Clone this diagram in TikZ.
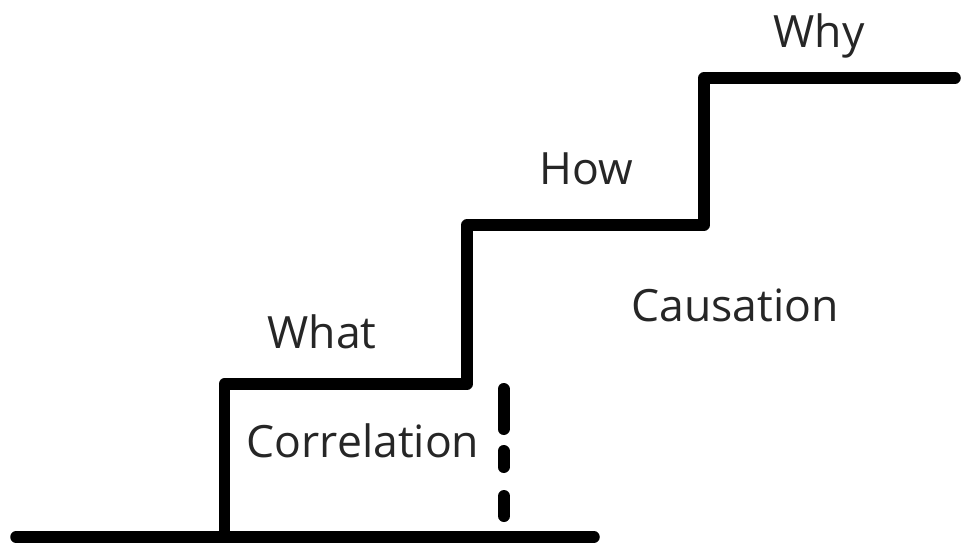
\documentclass[tikz,border=0pt]{standalone}
\usepackage{fontspec}
\setmainfont{Open Sans}
\begin{document}
\begin{tikzpicture}[x=1pt,y=-1pt,
    stairline/.style={line width=11.5pt, line cap=round, line join=round},
    dashpart/.style={line width=12pt, line cap=round},
    steplabel/.style={font=\fontsize{44.5}{44.5}\selectfont, inner sep=0pt, anchor=base, text=black!85}]
  \useasboundingbox (0,0) rectangle (961,542);

  % corners of the staircase
  \coordinate (g0) at (16,537);
  \coordinate (g1) at (594,537);
  \coordinate (r1b) at (224.5,537);
  \coordinate (r1t) at (224.5,384);
  \coordinate (r2b) at (467,384);
  \coordinate (r2t) at (467,225);
  \coordinate (r3b) at (704,225);
  \coordinate (r3t) at (704,78);
  \coordinate (topend) at (955,78);

  % ground line and steps
  \draw[stairline] (g0) -- (g1);
  \draw[stairline] (r1b) -- (r1t) -- (r2b) -- (r2t) -- (r3b) -- (r3t) -- (topend);

  % dashed divider between correlation and causation
  \coordinate (d1a) at (503.5,389); \coordinate (d1b) at (503.5,429);
  \coordinate (d2a) at (503.5,451); \coordinate (d2b) at (503.5,467);
  \coordinate (d3a) at (504,496);   \coordinate (d3b) at (504,516);
  \draw[dashpart] (d1a) -- (d1b);
  \draw[dashpart] (d2a) -- (d2b);
  \draw[dashpart] (d3a) -- (d3b);

  % labels
  \node[steplabel] (why) at (819,47) {Why};
  \node[steplabel] (how) at (586,184) {How};
  \node[steplabel] (what) at (322,348) {What};
  \node[steplabel] (corr) at (363,457) {Correlation};
  \node[steplabel] (caus) at (735,321) {Causation};
\end{tikzpicture}
\end{document}
